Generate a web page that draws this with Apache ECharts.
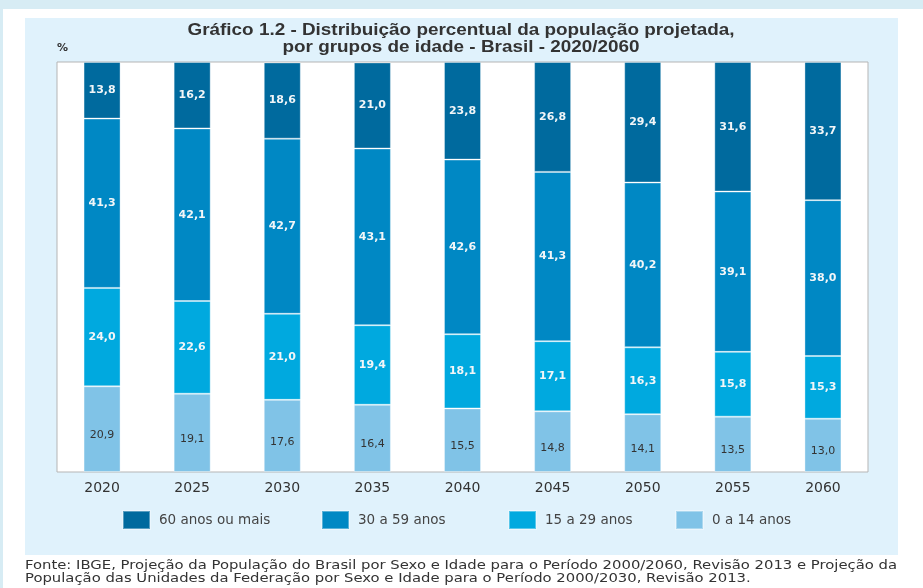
<!DOCTYPE html>
<html>
<head>
<meta charset="utf-8">
<script src="https://cdn.jsdelivr.net/npm/echarts@6/dist/echarts.min.js"></script>
<style>
  html, body { margin: 0; padding: 0; background: #fff; }
  #chart { width: 923px; height: 588px; }
</style>
</head>
<body>
<div id="chart"></div>
<script>
var years = ['2020', '2025', '2030', '2035', '2040', '2045', '2050', '2055', '2060'];
var idosos = [13.8, 16.2, 18.6, 21.0, 23.8, 26.8, 29.4, 31.6, 33.7];   // 60 anos ou mais
var adultos = [41.3, 42.1, 42.7, 43.1, 42.6, 41.3, 40.2, 39.1, 38.0];  // 30 a 59 anos
var jovens = [24.0, 22.6, 21.0, 19.4, 18.1, 17.1, 16.3, 15.8, 15.3];   // 15 a 29 anos
var criancas = [20.9, 19.1, 17.6, 16.4, 15.5, 14.8, 14.1, 13.5, 13.0]; // 0 a 14 anos

var names = ['60 anos ou mais', '30 a 59 anos', '15 a 29 anos', '0 a 14 anos'];
var colors = ['#006a9e', '#0088c4', '#00a9df', '#80c3e7'];

var titulo1 = 'Gráfico 1.2 - Distribuição percentual da população projetada,';
var titulo2 = 'por grupos de idade - Brasil - 2020/2060';
var fonte1 = 'Fonte: IBGE, Projeção da População do Brasil por Sexo e Idade para o Período 2000/2060, Revisão 2013 e Projeção da';
var fonte2 = 'População das Unidades da Federação por Sexo e Idade para o Período 2000/2030, Revisão 2013.';

// stretch/squeeze text horizontally so a line fills a given width (condensed / spaced fonts)
var ctx = document.createElement('canvas').getContext('2d');
function fitScale(text, font, width) {
    ctx.font = font;
    return width / ctx.measureText(text).width;
}
var titleFont = 'bold 17px "Liberation Sans"';
var titleScale = fitScale(titulo1, titleFont, 547);
var fonteFont = '12px "DejaVu Sans"';
var fonteScale = fitScale(fonte1, fonteFont, 872);

var chart = echarts.init(document.getElementById('chart'));

function fmt(p) {
    return p.value.toFixed(1).replace('.', ',');
}

function serie(name, data, color, labelColor) {
    return {
        name: name,
        type: 'bar',
        stack: 'total',
        barWidth: 37,
        data: data,
        itemStyle: {color: color, borderColor: 'rgba(255,255,255,0.35)', borderWidth: 1},
        label: {
            show: true,
            formatter: fmt,
            color: labelColor,
            fontFamily: 'DejaVu Sans',
            fontSize: 11,
            fontWeight: 'bold'
        }
    };
}

function legendAt(x, name) {
    return {
        left: x - 5,
        top: 505,
        data: [name],
        itemWidth: 27,
        itemHeight: 18,
        itemGap: 0,
        icon: 'rect',
        selectedMode: false,
        textStyle: {fontFamily: 'DejaVu Sans', fontSize: 13.5, color: '#444', padding: [0, 0, 0, 4]}
    };
}

function linha(text, x, y, font, scale, align) {
    return {
        type: 'text', x: x, y: y, scaleX: scale,
        style: {
            text: text, x: 0, y: 0, font: font, fill: '#333',
            textAlign: align, textVerticalAlign: 'middle'
        }
    };
}

var option = {
    animation: false,
    backgroundColor: '#fff',
    color: colors,
    graphic: [
        {type: 'rect', shape: {x: 0, y: 0, width: 923, height: 9}, style: {fill: '#d7ecf4'}, z: -10},
        {type: 'rect', shape: {x: 0, y: 0, width: 3, height: 588}, style: {fill: '#d7ecf4'}, z: -10},
        {type: 'rect', shape: {x: 25, y: 18, width: 873, height: 537}, style: {fill: '#e0f2fc'}, z: -10},
        {type: 'text', left: 57, top: 43, style: {text: '%', fontFamily: 'DejaVu Sans', fontSize: 11, fontWeight: 'bold', fill: '#333'}},
        linha(titulo1, 461, 30, titleFont, titleScale, 'center'),
        linha(titulo2, 461, 47, titleFont, titleScale, 'center'),
        linha(fonte1, 25, 566, fonteFont, fonteScale, 'left'),
        linha(fonte2, 25, 579, fonteFont, fonteScale, 'left')
    ],
    legend: [
        legendAt(122, names[0]),
        legendAt(321, names[1]),
        legendAt(508, names[2]),
        legendAt(675, names[3])
    ],
    grid: {
        left: 57, top: 62, width: 811, height: 410,
        show: true, backgroundColor: '#fff', borderColor: '#b5b5b5', borderWidth: 1
    },
    xAxis: {
        type: 'category',
        data: years,
        axisLine: {show: false},
        axisTick: {show: false},
        axisLabel: {margin: 9, fontFamily: 'DejaVu Sans', fontSize: 14, color: '#333'}
    },
    yAxis: {
        type: 'value',
        min: 0,
        max: 100,
        show: false,
        splitLine: {show: false}
    },
    series: [
        serie(names[3], criancas, colors[3], '#333'),
        serie(names[2], jovens, colors[2], '#f2f6f8'),
        serie(names[1], adultos, colors[1], '#f2f6f8'),
        serie(names[0], idosos, colors[0], '#f2f6f8')
    ]
};

option.series[0].label.fontWeight = 'normal';
option.series[0].label.offset = [0, 6];

chart.setOption(option);
</script>
</body>
</html>
